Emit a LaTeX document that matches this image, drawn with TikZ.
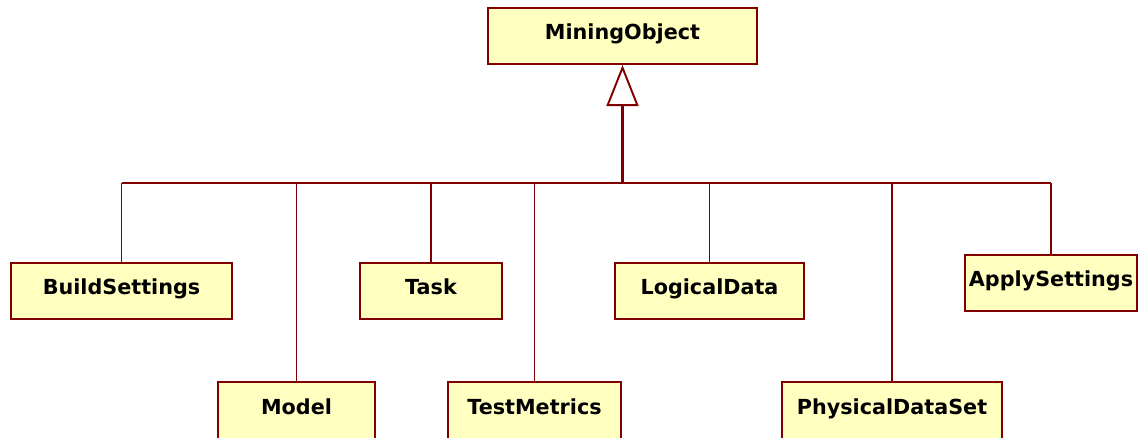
\documentclass[tikz,border=0pt]{standalone}
\usepackage{fontspec}
\setmainfont{DejaVu Sans}
\usepackage{tikz}
\usetikzlibrary{positioning,arrows.meta,calc}
\definecolor{ClassRed}{RGB}{128,0,0}
\definecolor{ClassFill}{RGB}{255,255,192}
\tikzset{>=latex}
\tikzset{
    classbox/.style={draw=ClassRed, fill=ClassFill, line width=1.2pt, rectangle,
        minimum height=1.12cm, inner sep=0pt, text height=9pt, text depth=4.5pt,
        font=\fontsize{11.8}{14}\selectfont\bfseries},
    lowbox/.style={classbox, minimum height=1.28cm, text depth=9pt},
    link/.style={draw=ClassRed, line width=1.1pt},
    stem/.style={draw=ClassRed, line width=1.9pt}
}

\begin{document}
\begin{tikzpicture}[x=0.02cm, y=-0.02cm]
            \useasboundingbox (0,0) rectangle (1145,437);
            % superclass
            \node[classbox, minimum width=5.38cm] (mining) at (622.5,36) {MiningObject};
            % first row
            \node[classbox, minimum width=4.42cm] (build) at (121.5,291) {BuildSettings};
            \node[classbox, minimum width=2.84cm] (task) at (431,291) {Task};
            \node[classbox, minimum width=3.78cm] (logical) at (709.5,291) {LogicalData};
            \node[classbox, minimum width=3.44cm] (apply) at (1051,283) {ApplySettings};
            % second row, cut by the lower edge
            \node[lowbox, minimum width=3.14cm] (model) at (296.5,414) {Model};
            \node[lowbox, minimum width=3.46cm] (metrics) at (534.5,414) {TestMetrics};
            \node[lowbox, minimum width=4.40cm] (physical) at (892,414) {PhysicalDataSet};
            \coordinate (bus) at (622.5,183);
            % generalisation tree
            \draw[link] (build.north |- bus) -- (apply.north |- bus);
            \foreach \c in {build,task,logical,apply,model,metrics,physical}{
                \draw[link] (\c.north) -- (\c.north |- bus);
            }
            \draw[stem, -{Triangle[open, length=0.82cm, width=0.64cm, line width=1.1pt]}] (bus) -- (mining.south);
        \end{tikzpicture}
\end{document}
